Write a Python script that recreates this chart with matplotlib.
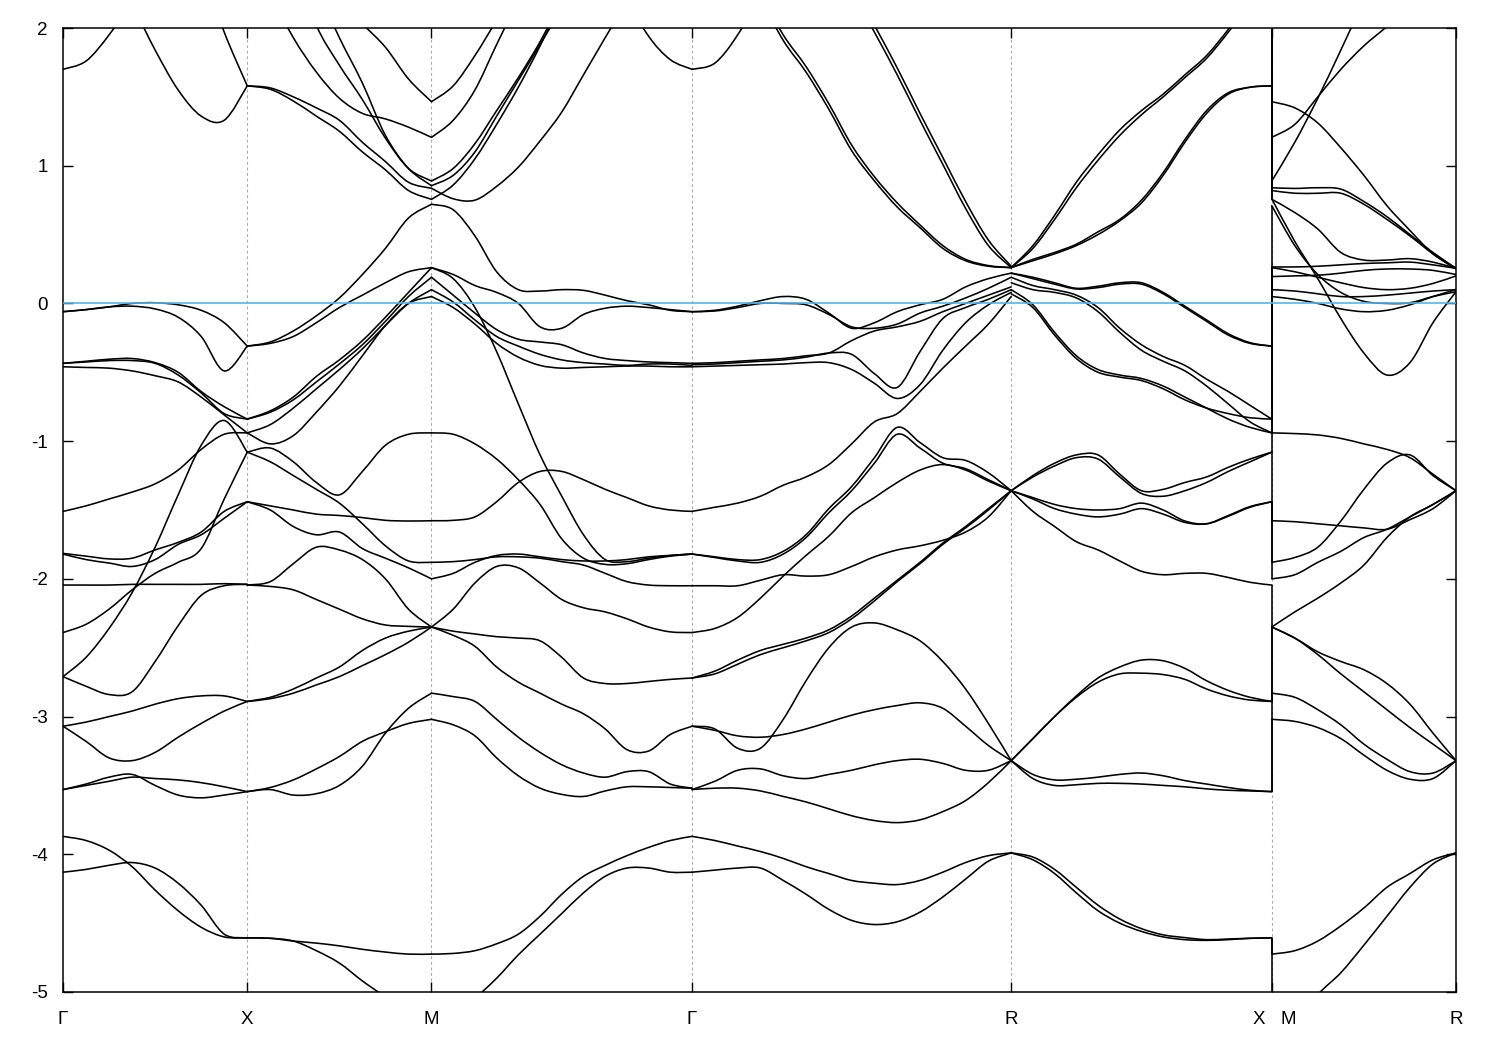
import numpy as np
import matplotlib
matplotlib.use("Agg")
import matplotlib.pyplot as plt
from matplotlib.path import Path
from matplotlib.patches import PathPatch

plt.rcParams['font.family'] = ['Liberation Sans', 'DejaVu Sans']
plt.rcParams['axes.unicode_minus'] = False

# ---------------- high-symmetry path (k in units of 2pi/a, Gamma-X = 1) ----------------
K_NAMES = ["Γ", "X", "M", "Γ", "R", "X|M", "R"]
K_STEPS = [0, 1, 1, np.sqrt(2), np.sqrt(3), np.sqrt(2), 1]
E_TICKS = [-5, -4, -3, -2, -1, 0, 1, 2]
E_MIN, E_MAX = -5, 2
E_FERMI = 0.0

# ---------------- band energies (eV), sampled uniformly along each segment ----------------
GX = [  # Gamma -> X
    [1.70, 1.76, 1.95, 2.20, 2.50, 2.80, 3.10, 3.40, 3.70],
    [2.95, 2.70, 2.45, 2.17, 1.84, 1.55, 1.36, 1.33, 1.58],
    [4.60, 4.20, 3.80, 3.40, 3.10, 2.80, 2.45, 1.97, 1.58],
    [-0.06, -0.045, -0.025, 0.00, 0.005, -0.01, -0.05, -0.14, -0.31],
    [-0.06, -0.045, -0.025, -0.02, -0.04, -0.10, -0.24, -0.49, -0.31],
    [-0.435, -0.42, -0.405, -0.40, -0.43, -0.50, -0.64, -0.75, -0.84],
    [-0.435, -0.425, -0.415, -0.415, -0.435, -0.52, -0.65, -0.80, -0.84],
    [-0.46, -0.465, -0.47, -0.49, -0.525, -0.57, -0.68, -0.81, -0.94],
    [-2.71, -2.57, -2.36, -2.10, -1.77, -1.39, -1.03, -0.85, -1.08],
    [-1.51, -1.47, -1.42, -1.37, -1.31, -1.21, -1.06, -0.95, -0.94],
    [-2.39, -2.33, -2.22, -2.08, -1.96, -1.88, -1.78, -1.42, -1.08],
    [-1.815, -1.835, -1.855, -1.85, -1.79, -1.735, -1.66, -1.51, -1.44],
    [-1.82, -1.86, -1.885, -1.91, -1.86, -1.75, -1.68, -1.56, -1.44],
    [-2.71, -2.78, -2.84, -2.82, -2.60, -2.34, -2.12, -2.05, -2.04],
    [-2.045, -2.045, -2.045, -2.04, -2.04, -2.04, -2.04, -2.035, -2.04],
    [-3.07, -3.04, -3.00, -2.96, -2.91, -2.87, -2.85, -2.85, -2.89],
    [-3.07, -3.18, -3.30, -3.32, -3.26, -3.15, -3.05, -2.96, -2.89],
    [-3.53, -3.49, -3.44, -3.42, -3.50, -3.57, -3.59, -3.57, -3.545],
    [-3.53, -3.50, -3.47, -3.44, -3.45, -3.46, -3.48, -3.51, -3.545],
    [-3.87, -3.90, -3.97, -4.09, -4.26, -4.41, -4.53, -4.60, -4.607],
    [-4.13, -4.11, -4.08, -4.06, -4.10, -4.21, -4.37, -4.58, -4.607],
]

XM = [  # X -> M
    [3.00, 2.80, 2.60, 2.40, 2.20, 2.03, 1.86, 1.63, 1.465],
    [2.60, 2.25, 1.93, 1.68, 1.49, 1.38, 1.34, 1.28, 1.206],
    [3.20, 2.90, 2.50, 2.02, 1.73, 1.48, 1.20, 0.98, 0.889],
    [3.50, 3.10, 2.70, 2.30, 1.93, 1.60, 1.22, 0.98, 0.855],
    [1.58, 1.565, 1.50, 1.42, 1.33, 1.17, 1.03, 0.88, 0.836],
    [1.58, 1.555, 1.47, 1.36, 1.25, 1.10, 0.97, 0.82, 0.756],
    [-0.31, -0.28, -0.20, -0.09, 0.04, 0.21, 0.40, 0.62, 0.72],
    [-0.31, -0.29, -0.24, -0.14, -0.03, 0.06, 0.15, 0.23, 0.26],
    [-0.84, -0.78, -0.68, -0.53, -0.41, -0.27, -0.10, 0.08, 0.26],
    [-0.84, -0.79, -0.70, -0.57, -0.44, -0.30, -0.13, 0.05, 0.19],
    [-0.94, -0.88, -0.76, -0.62, -0.48, -0.33, -0.16, 0.00, 0.10],
    [-0.94, -1.02, -0.96, -0.79, -0.60, -0.38, -0.16, 0.00, 0.05],
    [-1.08, -1.05, -1.15, -1.30, -1.39, -1.22, -1.03, -0.95, -0.94],
    [-1.08, -1.15, -1.25, -1.35, -1.45, -1.60, -1.76, -1.87, -1.88],
    [-1.44, -1.47, -1.50, -1.53, -1.54, -1.555, -1.575, -1.58, -1.578],
    [-1.44, -1.50, -1.62, -1.68, -1.66, -1.78, -1.85, -1.92, -2.00],
    [-2.045, -2.02, -1.89, -1.77, -1.79, -1.86, -2.00, -2.22, -2.35],
    [-2.045, -2.055, -2.08, -2.15, -2.22, -2.29, -2.335, -2.345, -2.35],
    [-2.89, -2.86, -2.80, -2.72, -2.64, -2.52, -2.43, -2.38, -2.35],
    [-2.89, -2.87, -2.83, -2.77, -2.71, -2.63, -2.55, -2.46, -2.35],
    [-3.545, -3.53, -3.57, -3.56, -3.50, -3.36, -3.12, -2.94, -2.83],
    [-3.545, -3.515, -3.46, -3.38, -3.29, -3.18, -3.11, -3.05, -3.02],
    [-4.607, -4.61, -4.63, -4.645, -4.665, -4.69, -4.71, -4.725, -4.725],
    [-4.607, -4.61, -4.63, -4.70, -4.79, -4.92, -5.04, -5.20, -5.30],
]

MG = [  # M -> Gamma
    [1.465, 1.58, 1.80, 2.06, 2.35, 2.65, 2.95, 3.25, 3.55, 3.85, 4.15, 4.45, 4.75],
    [1.206, 1.33, 1.55, 1.88, 2.20, 2.50, 2.80, 3.10, 3.40, 3.70, 4.00, 4.30, 4.60],
    [0.889, 0.98, 1.16, 1.40, 1.64, 1.90, 2.20, 2.50, 2.80, 3.10, 3.40, 3.70, 4.00],
    [0.855, 0.93, 1.10, 1.36, 1.62, 1.88, 2.15, 2.45, 2.75, 3.05, 3.35, 3.65, 3.95],
    [0.836, 0.76, 0.75, 0.85, 0.99, 1.18, 1.39, 1.66, 1.93, 2.20, 2.50, 2.80, 3.10],
    [0.756, 0.86, 1.05, 1.30, 1.57, 1.87, 2.20, 2.50, 2.80, 3.10, 3.40, 3.70, 4.00],
    [0.72, 0.68, 0.49, 0.23, 0.10, 0.09, 0.10, 0.095, 0.06, 0.02, -0.01, -0.05, -0.06],
    [0.26, 0.21, 0.13, 0.08, 0.00, -0.17, -0.18, -0.08, -0.035, -0.02, -0.03, -0.045, -0.06],
    [0.19, 0.06, -0.07, -0.19, -0.26, -0.28, -0.30, -0.36, -0.40, -0.415, -0.425, -0.43, -0.435],
    [0.10, 0.01, -0.12, -0.24, -0.31, -0.37, -0.41, -0.43, -0.44, -0.45, -0.44, -0.44, -0.45],
    [0.05, -0.03, -0.15, -0.29, -0.39, -0.45, -0.47, -0.465, -0.46, -0.455, -0.455, -0.46, -0.46],
    [0.26, 0.18, -0.03, -0.35, -0.73, -1.10, -1.40, -1.68, -1.86, -1.875, -1.85, -1.83, -1.82],
    [-0.94, -0.95, -1.02, -1.13, -1.28, -1.46, -1.71, -1.85, -1.895, -1.89, -1.86, -1.835, -1.82],
    [-1.578, -1.575, -1.55, -1.44, -1.30, -1.22, -1.22, -1.28, -1.35, -1.41, -1.47, -1.50, -1.51],
    [-1.88, -1.875, -1.86, -1.84, -1.84, -1.85, -1.875, -1.90, -1.96, -2.02, -2.045, -2.05, -2.05],
    [-2.00, -1.96, -1.88, -1.83, -1.82, -1.84, -1.86, -1.87, -1.87, -1.86, -1.84, -1.83, -1.82],
    [-2.35, -2.22, -2.03, -1.91, -1.92, -2.03, -2.15, -2.21, -2.24, -2.29, -2.35, -2.385, -2.39],
    [-2.35, -2.38, -2.40, -2.42, -2.43, -2.45, -2.57, -2.72, -2.76, -2.76, -2.745, -2.73, -2.72],
    [-2.35, -2.41, -2.49, -2.64, -2.75, -2.83, -2.91, -2.98, -3.09, -3.24, -3.25, -3.13, -3.07],
    [-2.83, -2.855, -2.89, -3.02, -3.15, -3.26, -3.35, -3.41, -3.44, -3.40, -3.40, -3.49, -3.52],
    [-3.02, -3.06, -3.14, -3.30, -3.43, -3.52, -3.565, -3.58, -3.54, -3.51, -3.51, -3.515, -3.52],
    [-4.725, -4.72, -4.70, -4.65, -4.58, -4.45, -4.29, -4.16, -4.08, -4.01, -3.95, -3.90, -3.87],
    [-5.40, -5.22, -5.05, -4.90, -4.73, -4.58, -4.43, -4.28, -4.16, -4.10, -4.10, -4.13, -4.13],
    [4.50, 4.30, 4.10, 3.90, 3.70, 3.50, 3.30, 3.00, 2.60, 2.22, 1.94, 1.77, 1.70],
]

GR = [  # Gamma -> R
    [1.70, 1.745, 1.95, 2.25, 2.60, 2.95, 3.30, 3.60, 3.90, 4.20, 4.50, 4.80, 5.10, 5.40, 5.70],
    [3.30, 2.90, 2.55, 2.22, 1.91, 1.68, 1.41, 1.11, 0.89, 0.70, 0.55, 0.40, 0.31, 0.27, 0.26],
    [3.35, 2.95, 2.60, 2.26, 1.95, 1.72, 1.45, 1.15, 0.92, 0.73, 0.57, 0.42, 0.32, 0.275, 0.26],
    [4.40, 4.10, 3.80, 3.50, 3.20, 2.90, 2.60, 2.27, 1.97, 1.66, 1.33, 1.01, 0.69, 0.42, 0.26],
    [4.45, 4.15, 3.85, 3.55, 3.25, 2.95, 2.65, 2.32, 2.02, 1.71, 1.38, 1.06, 0.74, 0.46, 0.27],
    [-0.06, -0.05, -0.02, 0.02, 0.05, 0.03, -0.07, -0.18, -0.14, -0.06, -0.01, 0.03, 0.12, 0.18, 0.22],
    [-0.06, -0.055, -0.03, 0.00, 0.00, -0.01, -0.08, -0.17, -0.18, -0.15, -0.07, -0.02, 0.04, 0.11, 0.19],
    [-0.435, -0.43, -0.42, -0.41, -0.40, -0.38, -0.36, -0.27, -0.20, -0.17, -0.13, -0.06, 0.00, 0.06, 0.12],
    [-0.445, -0.44, -0.43, -0.42, -0.41, -0.39, -0.36, -0.37, -0.51, -0.61, -0.35, -0.11, -0.03, 0.03, 0.10],
    [-0.46, -0.455, -0.45, -0.445, -0.44, -0.43, -0.43, -0.48, -0.58, -0.69, -0.59, -0.34, -0.14, -0.01, 0.08],
    [-1.51, -1.48, -1.45, -1.40, -1.32, -1.26, -1.17, -1.02, -0.86, -0.80, -0.64, -0.47, -0.31, -0.15, 0.05],
    [-1.82, -1.84, -1.86, -1.86, -1.80, -1.68, -1.49, -1.33, -1.12, -0.90, -1.01, -1.12, -1.14, -1.23, -1.36],
    [-1.82, -1.845, -1.87, -1.88, -1.82, -1.70, -1.52, -1.36, -1.16, -0.95, -1.05, -1.16, -1.20, -1.28, -1.36],
    [-2.39, -2.36, -2.28, -2.14, -1.98, -1.83, -1.69, -1.52, -1.41, -1.30, -1.21, -1.17, -1.21, -1.29, -1.36],
    [-2.05, -2.05, -2.05, -2.01, -1.97, -1.98, -1.97, -1.91, -1.84, -1.79, -1.76, -1.72, -1.66, -1.55, -1.36],
    [-2.72, -2.67, -2.59, -2.52, -2.475, -2.43, -2.37, -2.27, -2.14, -2.01, -1.88, -1.74, -1.62, -1.49, -1.36],
    [-2.72, -2.69, -2.62, -2.55, -2.50, -2.45, -2.39, -2.29, -2.16, -2.02, -1.89, -1.75, -1.63, -1.50, -1.36],
    [-3.07, -3.09, -3.23, -3.23, -3.02, -2.74, -2.50, -2.35, -2.32, -2.37, -2.45, -2.60, -2.80, -3.05, -3.32],
    [-3.07, -3.10, -3.14, -3.15, -3.13, -3.09, -3.04, -2.99, -2.95, -2.92, -2.90, -2.94, -3.07, -3.21, -3.32],
    [-3.53, -3.47, -3.39, -3.38, -3.43, -3.45, -3.42, -3.39, -3.35, -3.32, -3.31, -3.34, -3.39, -3.39, -3.32],
    [-3.53, -3.52, -3.52, -3.54, -3.58, -3.62, -3.67, -3.72, -3.755, -3.77, -3.75, -3.69, -3.61, -3.48, -3.32],
    [-3.87, -3.90, -3.94, -3.98, -4.03, -4.09, -4.14, -4.19, -4.21, -4.22, -4.19, -4.13, -4.06, -4.01, -3.99],
    [-4.13, -4.115, -4.10, -4.10, -4.19, -4.29, -4.40, -4.48, -4.51, -4.49, -4.42, -4.31, -4.18, -4.05, -3.99],
]

RX = [  # R -> X
    [0.26, 0.42, 0.64, 0.88, 1.08, 1.26, 1.40, 1.52, 1.66, 1.80, 1.99, 2.20, 2.40],
    [0.26, 0.40, 0.61, 0.84, 1.04, 1.22, 1.37, 1.50, 1.64, 1.78, 1.97, 2.18, 2.40],
    [0.26, 0.32, 0.37, 0.43, 0.52, 0.61, 0.75, 0.95, 1.19, 1.40, 1.53, 1.57, 1.58],
    [0.26, 0.31, 0.36, 0.42, 0.50, 0.60, 0.73, 0.93, 1.17, 1.38, 1.52, 1.57, 1.58],
    [0.22, 0.19, 0.15, 0.11, 0.125, 0.15, 0.15, 0.08, -0.02, -0.12, -0.22, -0.285, -0.31],
    [0.22, 0.18, 0.14, 0.105, 0.115, 0.14, 0.14, 0.07, -0.03, -0.13, -0.23, -0.29, -0.31],
    [0.19, 0.13, 0.10, 0.06, -0.03, -0.18, -0.30, -0.385, -0.45, -0.55, -0.64, -0.74, -0.84],
    [0.15, 0.10, 0.08, 0.04, -0.06, -0.21, -0.34, -0.42, -0.49, -0.60, -0.73, -0.86, -0.94],
    [0.10, -0.01, -0.21, -0.38, -0.48, -0.52, -0.545, -0.60, -0.68, -0.76, -0.84, -0.90, -0.94],
    [0.07, -0.03, -0.23, -0.40, -0.50, -0.535, -0.56, -0.62, -0.70, -0.76, -0.80, -0.83, -0.84],
    [-1.36, -1.25, -1.16, -1.10, -1.10, -1.24, -1.36, -1.35, -1.30, -1.26, -1.19, -1.13, -1.08],
    [-1.36, -1.26, -1.18, -1.12, -1.13, -1.26, -1.38, -1.40, -1.36, -1.30, -1.22, -1.15, -1.08],
    [-1.36, -1.42, -1.49, -1.53, -1.55, -1.53, -1.49, -1.53, -1.59, -1.60, -1.54, -1.475, -1.44],
    [-1.36, -1.41, -1.46, -1.49, -1.50, -1.49, -1.45, -1.50, -1.58, -1.60, -1.545, -1.48, -1.44],
    [-1.36, -1.51, -1.62, -1.73, -1.79, -1.87, -1.945, -1.97, -1.96, -1.96, -1.99, -2.025, -2.045],
    [-3.32, -3.16, -3.00, -2.85, -2.72, -2.64, -2.59, -2.595, -2.65, -2.74, -2.81, -2.86, -2.89],
    [-3.32, -3.16, -3.00, -2.86, -2.75, -2.69, -2.685, -2.695, -2.73, -2.80, -2.85, -2.88, -2.89],
    [-3.32, -3.42, -3.46, -3.455, -3.44, -3.42, -3.41, -3.43, -3.465, -3.49, -3.515, -3.535, -3.545],
    [-3.32, -3.45, -3.50, -3.495, -3.485, -3.485, -3.49, -3.50, -3.51, -3.525, -3.535, -3.54, -3.545],
    [-3.99, -4.02, -4.11, -4.24, -4.37, -4.47, -4.54, -4.585, -4.605, -4.62, -4.615, -4.61, -4.607],
    [-3.99, -4.04, -4.14, -4.28, -4.41, -4.50, -4.56, -4.60, -4.62, -4.625, -4.62, -4.61, -4.607],
]

MR = [  # M -> R
    [0.889, 1.17, 1.49, 1.84, 2.20, 2.55, 2.90, 3.25, 3.60],
    [1.206, 1.30, 1.50, 1.70, 1.87, 2.01, 2.15, 2.30, 2.45],
    [1.465, 1.42, 1.31, 1.13, 0.93, 0.71, 0.53, 0.36, 0.255],
    [0.84, 0.835, 0.84, 0.83, 0.74, 0.63, 0.50, 0.37, 0.255],
    [0.82, 0.80, 0.80, 0.80, 0.72, 0.61, 0.49, 0.36, 0.25],
    [0.756, 0.66, 0.54, 0.37, 0.315, 0.315, 0.325, 0.30, 0.255],
    [0.71, 0.42, 0.21, 0.08, 0.015, 0.00, 0.005, 0.05, 0.085],
    [0.76, 0.45, 0.18, -0.11, -0.36, -0.52, -0.43, -0.14, 0.085],
    [0.265, 0.265, 0.27, 0.28, 0.29, 0.295, 0.30, 0.28, 0.255],
    [0.195, 0.20, 0.205, 0.22, 0.24, 0.25, 0.25, 0.24, 0.21],
    [0.26, 0.23, 0.19, 0.15, 0.115, 0.10, 0.11, 0.145, 0.20],
    [0.10, 0.09, 0.07, 0.05, 0.05, 0.06, 0.075, 0.09, 0.10],
    [0.05, 0.03, 0.00, -0.04, -0.06, -0.05, -0.01, 0.05, 0.10],
    [-0.94, -0.945, -0.955, -0.98, -1.02, -1.06, -1.12, -1.24, -1.36],
    [-1.88, -1.845, -1.77, -1.58, -1.35, -1.16, -1.10, -1.25, -1.36],
    [-1.578, -1.585, -1.60, -1.615, -1.63, -1.64, -1.57, -1.49, -1.36],
    [-2.00, -1.97, -1.88, -1.80, -1.70, -1.64, -1.55, -1.46, -1.36],
    [-2.35, -2.24, -2.14, -2.03, -1.90, -1.70, -1.55, -1.46, -1.36],
    [-2.35, -2.43, -2.53, -2.60, -2.66, -2.76, -2.91, -3.12, -3.32],
    [-2.35, -2.43, -2.55, -2.69, -2.82, -2.95, -3.08, -3.20, -3.32],
    [-2.83, -2.86, -2.95, -3.06, -3.20, -3.31, -3.40, -3.41, -3.32],
    [-3.02, -3.035, -3.08, -3.16, -3.28, -3.39, -3.455, -3.45, -3.32],
    [-4.725, -4.70, -4.63, -4.52, -4.39, -4.24, -4.14, -4.04, -3.99],
    [-5.45, -5.25, -5.02, -4.86, -4.66, -4.45, -4.24, -4.07, -3.99],
]

SEGMENTS = [(0, 1, GX), (1, 2, XM), (2, 3, MG), (3, 4, GR), (4, 5, RX), (5, 6, MR)]


def smooth_path(xs, ys):
    """Bezier path passing through every data point (Catmull-Rom tangents)."""
    pts = np.column_stack([xs, ys])
    n = len(pts)
    verts = [pts[0]]
    codes = [Path.MOVETO]
    for i in range(n - 1):
        p0 = pts[i - 1] if i > 0 else pts[i]
        p1 = pts[i]
        p2 = pts[i + 1]
        p3 = pts[i + 2] if i + 2 < n else pts[i + 1]
        verts += [p1 + (p2 - p0) / 6.0, p2 - (p3 - p1) / 6.0, p2]
        codes += [Path.CURVE4] * 3
    return Path(verts, codes)


k_pos = np.cumsum(K_STEPS)

fig = plt.figure(figsize=(15, 10.5), dpi=100)
ax = fig.add_axes([63 / 1500, 58 / 1050, 1393 / 1500, 964 / 1050])

LW = 1.15
for i0, i1, bands in SEGMENTS:
    for band in bands:
        xs = np.linspace(k_pos[i0], k_pos[i1], len(band))
        ax.add_patch(PathPatch(smooth_path(xs, np.asarray(band, float)),
                               fill=False, edgecolor='black', lw=LW,
                               joinstyle='round', capstyle='round', zorder=3))

# discontinuity X|M : band n at X joined to band n at M (sorted order)
x_end = sorted(b[-1] for b in RX)
m_start = sorted(b[0] for b in MR)
n = max(len(x_end), len(m_start))
x_end += [E_MAX + 1] * (n - len(x_end))
m_start += [E_MAX + 1] * (n - len(m_start))
for a, b in zip(x_end, m_start):
    ax.vlines(k_pos[5], min(a, b), max(a, b), colors='black', lw=LW, zorder=3)

# high-symmetry guide lines and Fermi level
for k in k_pos[1:-1]:
    ax.axvline(k, color='#a8a8a8', lw=0.8, ls=(0, (2.5, 2.5)), zorder=1)
ax.axhline(E_FERMI, color='#56b4e9', lw=1.2, zorder=4)

ax.set_xlim(k_pos[0], k_pos[-1])
ax.set_ylim(E_MIN, E_MAX)
ax.set_yticks(E_TICKS)
ax.set_yticklabels([str(t) for t in E_TICKS])
ax.set_xticks(k_pos)
ax.set_xticklabels([nm if "|" not in nm else "" for nm in K_NAMES])

XPAD = 14
for nm, k in zip(K_NAMES, k_pos):
    if "|" in nm:
        left, right = nm.split("|")
        ax.annotate(left, xy=(k, 0), xycoords=ax.get_xaxis_transform(),
                    xytext=(-5, -XPAD), textcoords='offset points',
                    ha='right', va='top', fontsize=13.5)
        ax.annotate(right, xy=(k, 0), xycoords=ax.get_xaxis_transform(),
                    xytext=(6, -XPAD), textcoords='offset points',
                    ha='left', va='top', fontsize=13.5)

ax.tick_params(axis='both', direction='in', length=7, width=1.0,
               labelsize=13.5, top=True, right=True)
ax.tick_params(axis='x', pad=XPAD)
ax.tick_params(axis='y', pad=11)
for s in ax.spines.values():
    s.set_linewidth(1.1)

fig.savefig("out.png", dpi=100)
